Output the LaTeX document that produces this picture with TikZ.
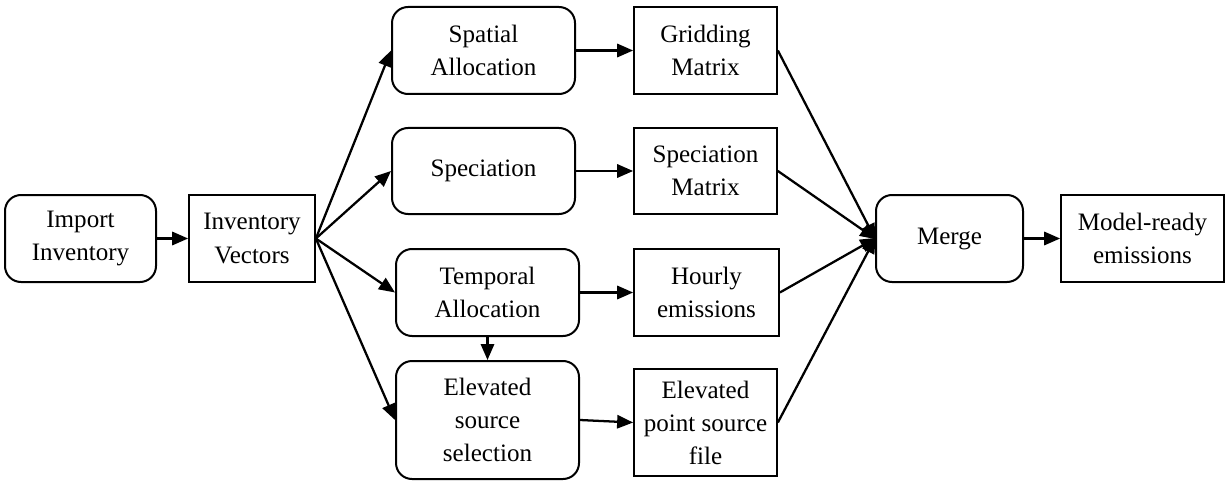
\documentclass[tikz,border=0pt]{standalone}
\usepackage{fontspec}
\setmainfont{Liberation Serif}
\usetikzlibrary{arrows.meta}
\begin{document}
\begin{tikzpicture}[x=0.75pt,y=-0.75pt,
  every node/.style={font=\fontsize{18.8}{24.8}\selectfont, align=center, inner sep=0pt},
  proc/.style={draw, line width=1.5pt, rounded corners=12pt},
  data/.style={draw, line width=1.3pt},
  flow/.style={line width=1.7pt, -{Triangle[length=12pt,width=10pt]}},
  mergeflow/.style={line width=1.7pt, -{Triangle[length=12pt,width=10pt]}, shorten >=-1pt}]
\useasboundingbox (0,0) rectangle (1226,481);
% processing steps (rounded) and data products (square)
\node[proc, minimum width=151*0.75pt, minimum height=87*0.75pt] (imp) at (80.5,238.5) {Import\\Inventory};
\node[data, minimum width=126*0.75pt, minimum height=87*0.75pt] (inv) at (252,238.5) {Inventory\\Vectors};
\node[proc, minimum width=183*0.75pt, minimum height=87*0.75pt] (spa) at (483.5,50.5) {Spatial\\Allocation};
\node[data, minimum width=143*0.75pt, minimum height=87*0.75pt] (gri) at (705.5,50.5) {Gridding\\Matrix};
\node[proc, minimum width=183*0.75pt, minimum height=86*0.75pt] (spe) at (483.5,171) {Speciation};
\node[data, minimum width=143*0.75pt, minimum height=86*0.75pt] (spm) at (705.5,171) {Speciation\\Matrix};
\node[proc, minimum width=183*0.75pt, minimum height=87*0.75pt] (tem) at (487.5,292.5) {Temporal\\Allocation};
\node[data, minimum width=145*0.75pt, minimum height=87*0.75pt] (hou) at (706.5,292.5) {Hourly\\emissions};
\node[proc, minimum width=183*0.75pt, minimum height=118*0.75pt] (ele) at (487.5,420) {Elevated\\source\\selection};
\node[data, minimum width=143*0.75pt, minimum height=107*0.75pt] (eps) at (705.5,422.5) {Elevated\\point source\\file};
\node[proc, minimum width=147*0.75pt, minimum height=87*0.75pt] (mer) at (949.5,238.5) {Merge};
\node[data, minimum width=163*0.75pt, minimum height=87*0.75pt] (mod) at (1142.5,238.5) {Model-ready\\emissions};
% connectors
\draw[flow] (imp) -- (inv);
\draw[flow] (inv.east) -- (spa.west);
\draw[flow] (inv.east) -- (spe.west);
\draw[flow] (inv.east) -- (tem.west);
\draw[flow] (inv.east) -- (ele.west);
\draw[flow] (spa) -- (gri);
\draw[flow] (spe) -- (spm);
\draw[flow] (tem) -- (hou);
\draw[flow] (tem) -- (ele);
\draw[flow] (ele.east) -- (eps.west);
\draw[mergeflow] (gri.east) -- (mer.west);
\draw[mergeflow] (spm.east) -- (mer.west);
\draw[mergeflow] (hou.east) -- (mer.west);
\draw[mergeflow] (eps.east) -- (mer.west);
\draw[flow] (mer) -- (mod);
\end{tikzpicture}
\end{document}
